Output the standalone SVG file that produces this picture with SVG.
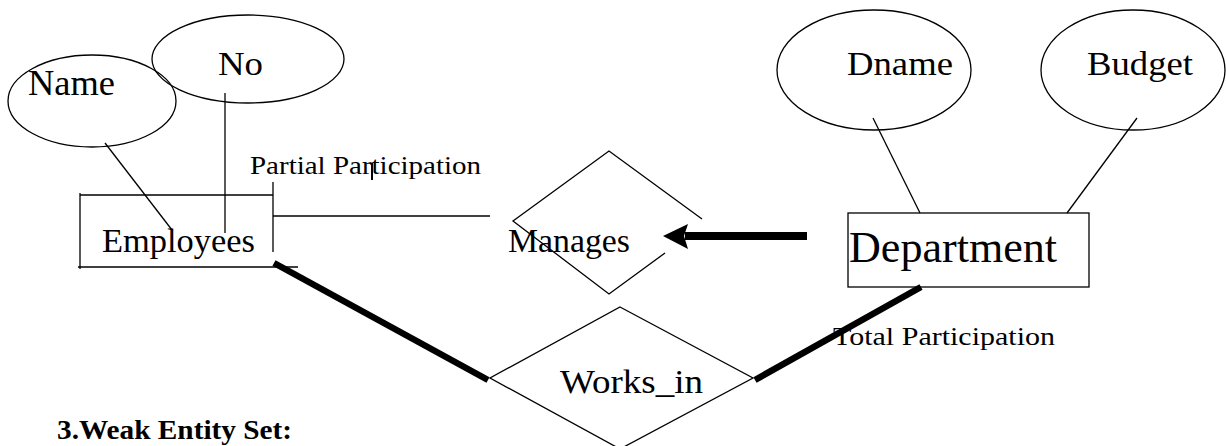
<svg xmlns="http://www.w3.org/2000/svg" width="1226" height="446" viewBox="0 0 1226 446">
<style>
.s{fill:none;stroke:#000;stroke-width:1.3}
.t{font-family:"Liberation Serif","Times New Roman",serif;fill:#000}
.thick{stroke:#000;stroke-width:6.5;fill:none}
</style>
<rect width="1226" height="446" fill="#fff"/>
<g id="connectors">
<line class="s" x1="105" y1="143" x2="172" y2="230"/>
<line class="s" x1="225" y1="93" x2="225" y2="233"/>
<line class="s" x1="273" y1="216" x2="490" y2="216"/>
<line class="s" x1="873" y1="118" x2="920" y2="213"/>
<line class="s" x1="1137" y1="118" x2="1067" y2="213"/>
<line class="thick" x1="274" y1="263" x2="488" y2="380"/>
<line class="thick" x1="755" y1="380" x2="921" y2="287"/>
<rect x="685" y="232" width="122" height="8" fill="#000"/>
<polygon points="663,236 688,224 684,236 688,249" fill="#000"/>
<line x1="372" y1="163" x2="372" y2="180" stroke="#000" stroke-width="2"/>
</g>
<g id="name">
<ellipse class="s" cx="92" cy="101" rx="84" ry="46"/>
<text class="t" x="28" y="95" font-size="36" textLength="87" lengthAdjust="spacingAndGlyphs">Name</text>
</g>
<g id="no">
<ellipse class="s" cx="248" cy="59" rx="96" ry="44"/>
<text class="t" x="218" y="75" font-size="34" textLength="45" lengthAdjust="spacingAndGlyphs">No</text>
</g>
<g id="employees">
<line class="s" x1="80" y1="195" x2="273" y2="195"/>
<line class="s" x1="80" y1="193" x2="80" y2="269"/>
<line class="s" x1="78" y1="267" x2="298" y2="267"/>
<line class="s" x1="273" y1="182" x2="273" y2="252"/>
<text class="t" x="102" y="252" font-size="33" textLength="153" lengthAdjust="spacingAndGlyphs">Employees</text>
</g>
<g id="partial-label">
<text class="t" x="250" y="174" font-size="25" textLength="231" lengthAdjust="spacingAndGlyphs">Partial Participation</text>
</g>
<g id="manages">
<polyline class="s" points="702,219 609,151 513,221 609,294 665,253"/>
<text class="t" x="508" y="252" font-size="33" textLength="122" lengthAdjust="spacingAndGlyphs">Manages</text>
</g>
<g id="dname">
<ellipse class="s" cx="874" cy="70" rx="97" ry="60"/>
<text class="t" x="847" y="75" font-size="34" textLength="106" lengthAdjust="spacingAndGlyphs">Dname</text>
</g>
<g id="budget">
<ellipse class="s" cx="1133" cy="70" rx="92" ry="60"/>
<text class="t" x="1087" y="75" font-size="34" textLength="106" lengthAdjust="spacingAndGlyphs">Budget</text>
</g>
<g id="department">
<rect class="s" x="848" y="213" width="241" height="74"/>
<text class="t" x="849" y="262" font-size="44" textLength="208" lengthAdjust="spacingAndGlyphs">Department</text>
</g>
<g id="total-label">
<text class="t" x="833" y="345" font-size="26" textLength="222" lengthAdjust="spacingAndGlyphs">Total Participation</text>
</g>
<g id="works_in">
<polygon class="s" points="620,307 753,378 620,449 490,378"/>
<text class="t" x="560" y="393" font-size="33" textLength="143" lengthAdjust="spacingAndGlyphs">Works_in</text>
</g>
<g id="heading">
<text class="t" x="57" y="439" font-size="27" font-weight="bold" textLength="235" lengthAdjust="spacingAndGlyphs">3.Weak Entity Set:</text>
</g>
</svg>
